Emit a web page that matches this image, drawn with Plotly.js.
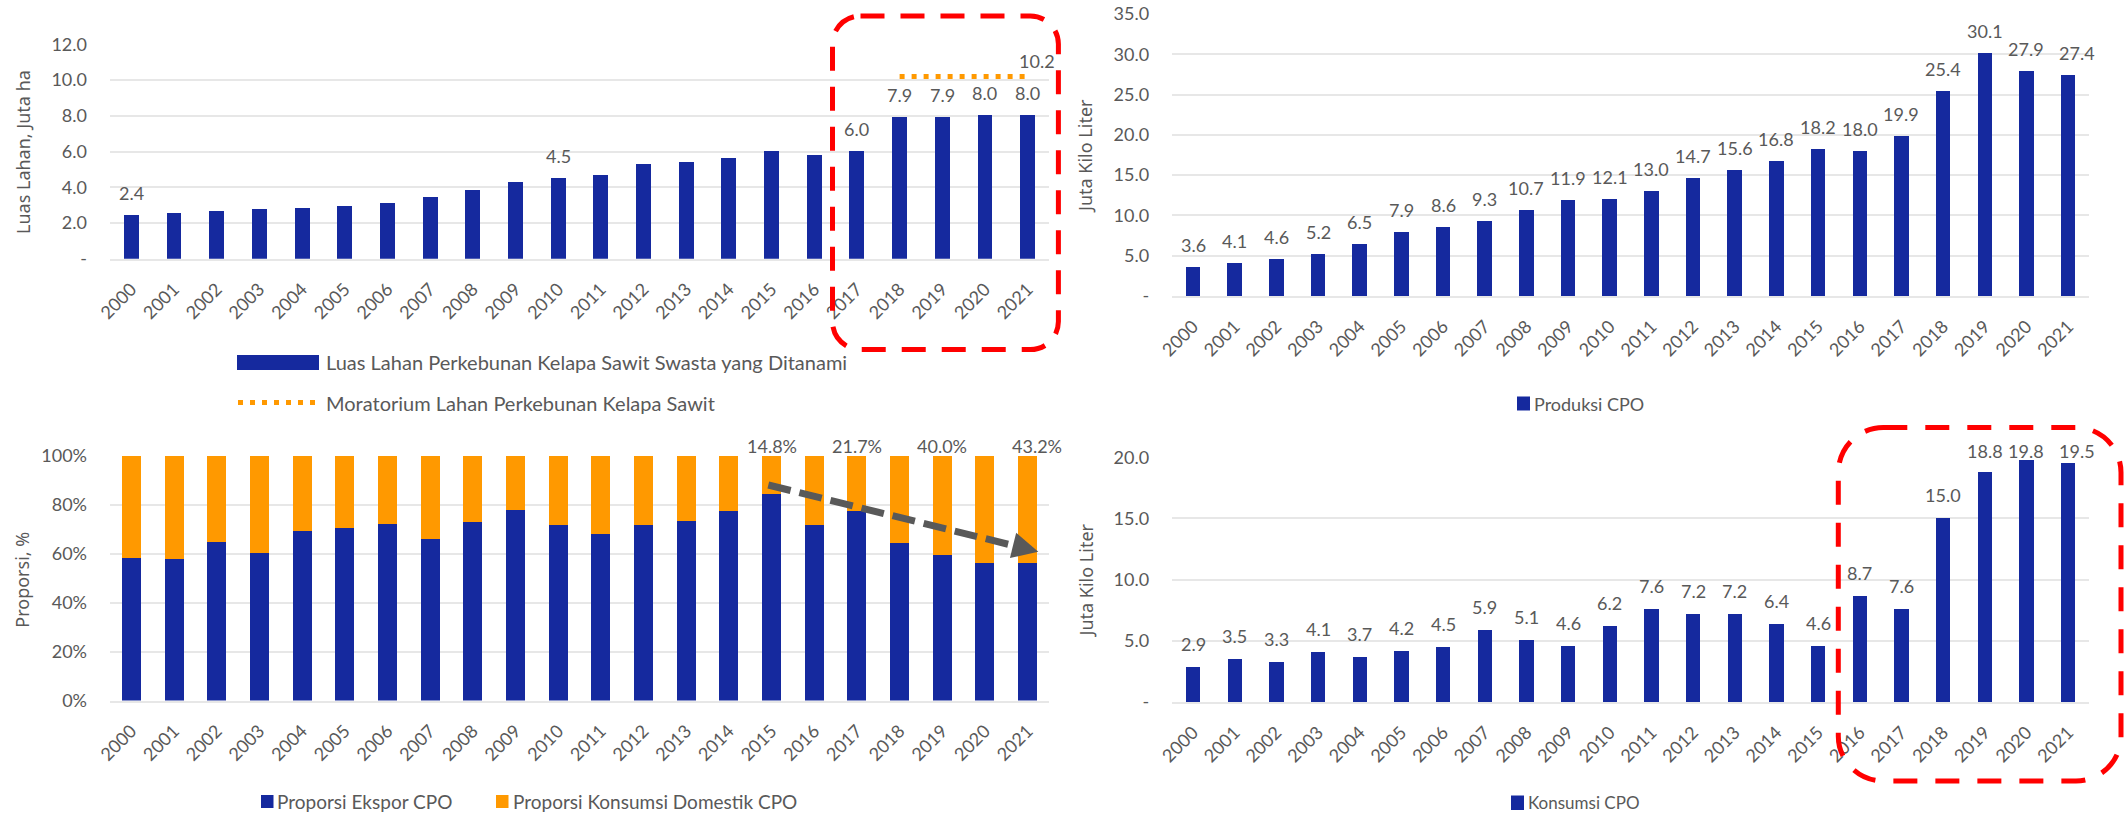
<!DOCTYPE html>
<html><head><meta charset="utf-8">
<script src="https://cdn.plot.ly/plotly-3.0.1.min.js"></script>
<style>html,body{margin:0;padding:0;background:#fff;} #chart{width:2126px;height:813px;}</style>
</head><body><div id="chart"></div>
<script>
// ---------- DATA ----------
const years = ['2000','2001','2002','2003','2004','2005','2006','2007','2008','2009','2010','2011','2012','2013','2014','2015','2016','2017','2018','2019','2020','2021'];

// Top-left: Luas Lahan (juta ha)
const lahanSwasta = [2.42, 2.57, 2.66, 2.80, 2.85, 2.95, 3.10, 3.45, 3.86, 4.28, 4.52, 4.69, 5.31, 5.42, 5.65, 6.02, 5.80, 6.04, 7.94, 7.94, 8.02, 8.04];
const lahanLabelYears = ['2000','2010','2017','2018','2019','2020','2021'];
const moratoriumYears = ['2018','2019','2020','2021'];
const moratorium = [10.2, 10.2, 10.2, 10.2];
const moratoriumLabelYear = '2021';

// Top-right: Produksi CPO (juta kilo liter)
const produksiCPO = [3.6, 4.1, 4.6, 5.2, 6.5, 7.9, 8.6, 9.3, 10.7, 11.9, 12.1, 13.0, 14.7, 15.6, 16.8, 18.2, 18.0, 19.9, 25.4, 30.1, 27.9, 27.4];

// Bottom-left: Proporsi (%)
const proporsiEkspor   = [58.1, 57.7, 65.0, 60.5, 69.5, 70.4, 72.3, 66.1, 72.9, 78.0, 71.7, 67.9, 71.7, 73.4, 77.6, 84.5, 71.8, 77.6, 64.5, 59.5, 56.1, 56.1];
const proporsiDomestik = [41.9, 42.3, 35.0, 39.5, 30.5, 29.6, 27.7, 33.9, 27.1, 22.0, 28.3, 32.1, 28.3, 26.6, 22.4, 15.5, 28.2, 22.4, 35.5, 40.5, 43.9, 43.9];
const domestikLabels = ['','','','','','','','','','','','','','','','14.8%','','21.7%','','40.0%','','43.2%'];

// Bottom-right: Konsumsi CPO (juta kilo liter)
const konsumsiCPO = [2.9, 3.5, 3.3, 4.1, 3.7, 4.2, 4.5, 5.9, 5.1, 4.6, 6.2, 7.6, 7.2, 7.2, 6.4, 4.6, 8.7, 7.6, 15.0, 18.8, 19.8, 19.5];

// Tick labels
const tlTickVals = [0, 2, 4, 6, 8, 10, 12];
const tlTickText = ['-', '2.0', '4.0', '6.0', '8.0', '10.0', '12.0'];
const trTickVals = [0, 5, 10, 15, 20, 25, 30, 35];
const trTickText = ['-', '5.0', '10.0', '15.0', '20.0', '25.0', '30.0', '35.0'];
const blTickVals = [0, 20, 40, 60, 80, 100];
const blTickText = ['0%', '20%', '40%', '60%', '80%', '100%'];
const brTickVals = [0, 5, 10, 15, 20];
const brTickText = ['-', '5.0', '10.0', '15.0', '20.0'];

// Texts
const tlTitle = 'Luas Lahan, Juta ha';
const trTitle = 'Juta Kilo Liter';
const blTitle = 'Proporsi, %';
const brTitle = 'Juta Kilo Liter';
const tlLegend1 = 'Luas Lahan Perkebunan Kelapa Sawit Swasta yang Ditanami';
const tlLegend2 = 'Moratorium Lahan Perkebunan Kelapa Sawit';
const trLegend = 'Produksi CPO';
const blLegend1 = 'Proporsi Ekspor CPO';
const blLegend2 = 'Proporsi Konsumsi Domestik CPO';
const brLegend = 'Konsumsi CPO';

// ---------- STYLE / LAYOUT ----------
const W = 2126, H = 813;
const px = x => x / W;
const py = y => 1 - y / H;
const BLUE = '#15299E', ORANGE = '#FF9900', GREY = '#595959', GRID = '#e7e7e7', RED = '#FF0000';
const numFont = {family: 'Lato, sans-serif', size: 18, color: GREY};
const xTickFont = {family: 'Lato, sans-serif', size: 18, color: GREY};
const titleFont = {family: 'Noto Sans, sans-serif', size: 18, color: GREY};
const LAST = years.length - 1;
const edgeShift = 9;   // right-edge labels sit slightly right of their bar

function xAx(x0, x1, anchor) {
  return {domain: [px(x0), px(x1)], anchor: anchor, type: 'category', range: [-0.5, 21.5],
    tickangle: -45, tickfont: xTickFont, showgrid: false, showline: true, linecolor: GRID, linewidth: 2,
    ticks: '', ticklabelstandoff: 11, fixedrange: true};
}
function yAx(yb, yt, anchor, range, vals, text) {
  return {domain: [py(yb), py(yt)], anchor: anchor, range: range, tickvals: vals, ticktext: text,
    tickfont: numFont, showgrid: true, gridcolor: GRID, gridwidth: 2, zeroline: false, showline: false,
    ticks: '', ticklabelstandoff: 22, fixedrange: true};
}

const traces = [
  {type: 'bar', x: years, y: lahanSwasta, xaxis: 'x', yaxis: 'y', marker: {color: BLUE}, width: 0.35},
  {type: 'scatter', mode: 'lines', x: moratoriumYears, y: moratorium, xaxis: 'x', yaxis: 'y',
    line: {color: ORANGE, width: 5, dash: '5px,7px'}},
  {type: 'bar', x: years, y: produksiCPO, xaxis: 'x2', yaxis: 'y2', marker: {color: BLUE}, width: 0.35},
  {type: 'bar', x: years, y: proporsiEkspor, xaxis: 'x3', yaxis: 'y3', marker: {color: BLUE}, width: 0.445},
  {type: 'bar', x: years, y: proporsiDomestik, xaxis: 'x3', yaxis: 'y3', marker: {color: ORANGE}, width: 0.445},
  {type: 'bar', x: years, y: konsumsiCPO, xaxis: 'x4', yaxis: 'y4', marker: {color: BLUE}, width: 0.345}
];

const ann = [];
// category axes: annotation x is the category's serial index
function label(xref, yref, idx, y, text, yshift, xshift) {
  ann.push({xref: xref, yref: yref, x: idx, y: y, text: text, showarrow: false, xanchor: 'center', yanchor: 'middle',
    yshift: yshift, xshift: xshift || 0, font: numFont});
}
// TL labels
lahanLabelYears.forEach(yr => { const i = years.indexOf(yr); label('x', 'y', i, lahanSwasta[i], lahanSwasta[i].toFixed(1), 22); });
(function () {
  const m = moratorium[moratoriumYears.indexOf(moratoriumLabelYear)];
  const i = years.indexOf(moratoriumLabelYear);
  label('x', 'y', i, m, m.toFixed(1), 15, i === LAST ? edgeShift : 0);
})();
// TR labels
years.forEach((yr, i) => label('x2', 'y2', i, produksiCPO[i], produksiCPO[i].toFixed(1), 22, i === LAST ? edgeShift : 0));
// BL labels (above stack top)
years.forEach((yr, i) => { if (domestikLabels[i]) label('x3', 'y3', i, proporsiEkspor[i] + proporsiDomestik[i], domestikLabels[i], 10, i === LAST ? edgeShift : 0); });
// BR labels (kept inside chart area near the top)
const brLabelCap = 18.6;
years.forEach((yr, i) => label('x4', 'y4', i, Math.min(konsumsiCPO[i], brLabelCap), konsumsiCPO[i].toFixed(1), 23, i === LAST ? edgeShift : 0));

// Axis titles
function vtitle(x, y, text) {
  ann.push({xref: 'paper', yref: 'paper', x: px(x), y: py(y), text: text, textangle: -90, showarrow: false, xanchor: 'center', yanchor: 'middle', font: titleFont});
}
vtitle(22.5, 152.5, tlTitle);
vtitle(1085, 156, trTitle);
vtitle(21.7, 580, blTitle);
vtitle(1085, 580.5, brTitle);

// Legends (custom)
const shapes = [];
function legText(x, y, text, size) {
  ann.push({xref: 'paper', yref: 'paper', x: px(x), y: py(y), text: text, showarrow: false, xanchor: 'left', yanchor: 'middle',
    font: {family: 'Lato, sans-serif', size: size, color: GREY}});
}
function legRect(x0, y0, x1, y1, color) {
  shapes.push({type: 'rect', xref: 'paper', yref: 'paper', x0: px(x0), x1: px(x1), y0: py(y1), y1: py(y0), fillcolor: color, line: {width: 0}});
}
legRect(237, 355, 319, 370, BLUE);
legText(324, 362, tlLegend1, 20);
shapes.push({type: 'line', xref: 'paper', yref: 'paper', x0: px(238), x1: px(318), y0: py(402.5), y1: py(402.5), line: {color: ORANGE, width: 5, dash: '5px,7px'}});
legText(324, 402.5, tlLegend2, 20);

legRect(1517, 396.5, 1530, 410.5, BLUE);
legText(1532, 403.5, trLegend, 18);

legRect(261, 795, 273.5, 808, BLUE);
legText(275, 801.5, blLegend1, 19);
legRect(496, 795, 508.5, 808, ORANGE);
legText(511, 801.5, blLegend2, 19);

legRect(1511, 795.5, 1524, 810, BLUE);
legText(1526, 802.5, brLegend, 17);

// Red dashed rounded rectangles
function roundRect(x0, y0, x1, y1, r) {
  const k = 0.5523 * r;
  const P = (x, y) => px(x) + ',' + py(y);
  return 'M' + P(x0 + r, y0) + ' L' + P(x1 - r, y0) +
    ' C' + P(x1 - r + k, y0) + ' ' + P(x1, y0 + r - k) + ' ' + P(x1, y0 + r) +
    ' L' + P(x1, y1 - r) +
    ' C' + P(x1, y1 - r + k) + ' ' + P(x1 - r + k, y1) + ' ' + P(x1 - r, y1) +
    ' L' + P(x0 + r, y1) +
    ' C' + P(x0 + r - k, y1) + ' ' + P(x0, y1 - r + k) + ' ' + P(x0, y1 - r) +
    ' L' + P(x0, y0 + r) +
    ' C' + P(x0, y0 + r - k) + ' ' + P(x0 + r - k, y0) + ' ' + P(x0 + r, y0) + ' Z';
}
shapes.push({type: 'path', xref: 'paper', yref: 'paper', path: roundRect(832.5, 16, 1058.4, 349.6, 28), line: {color: RED, width: 5, dash: '24px,16px'}});
shapes.push({type: 'path', xref: 'paper', yref: 'paper', path: roundRect(1838.3, 427.5, 2121, 781, 45), line: {color: RED, width: 5, dash: '24px,18px'}});

// Grey dashed arrow in bottom-left chart
const aS = [768.3, 485], aT = [1038.3, 551.7];
(function () {
  const dx = aT[0] - aS[0], dy = aT[1] - aS[1], L = Math.hypot(dx, dy);
  const ux = dx / L, uy = dy / L, nx = -uy, ny = ux;
  const hl = 26, hw = 13;
  const bx = aT[0] - hl * ux, by = aT[1] - hl * uy;
  shapes.push({type: 'line', xref: 'paper', yref: 'paper', x0: px(aS[0]), y0: py(aS[1]), x1: px(bx), y1: py(by),
    line: {color: GREY, width: 7, dash: '23px,9px'}});
  const P = (x, y) => px(x) + ',' + py(y);
  shapes.push({type: 'path', xref: 'paper', yref: 'paper',
    path: 'M' + P(aT[0], aT[1]) + ' L' + P(bx + hw * nx, by + hw * ny) + ' L' + P(bx - hw * nx, by - hw * ny) + ' Z',
    fillcolor: GREY, line: {width: 0}});
})();

const layout = {
  width: W, height: H, margin: {l: 0, r: 0, t: 0, b: 0}, paper_bgcolor: '#fff', plot_bgcolor: '#fff',
  showlegend: false, barmode: 'stack', font: {family: 'Lato, sans-serif', color: GREY},
  xaxis:  xAx(110, 1049, 'y'),
  yaxis:  yAx(258.7, 44.3, 'x', [0, 12], tlTickVals, tlTickText),
  xaxis2: xAx(1172.2, 2089, 'y2'),
  yaxis2: yAx(296, 14, 'x2', [0, 35], trTickVals, trTickText),
  xaxis3: xAx(110, 1049, 'y3'),
  yaxis3: yAx(700.5, 456, 'x3', [0, 100], blTickVals, blTickText),
  xaxis4: xAx(1172.2, 2089, 'y4'),
  yaxis4: yAx(702, 457.3, 'x4', [0, 20], brTickVals, brTickText),
  annotations: ann, shapes: shapes
};
Plotly.newPlot('chart', traces, layout, {staticPlot: true, displayModeBar: false});
</script></body></html>
